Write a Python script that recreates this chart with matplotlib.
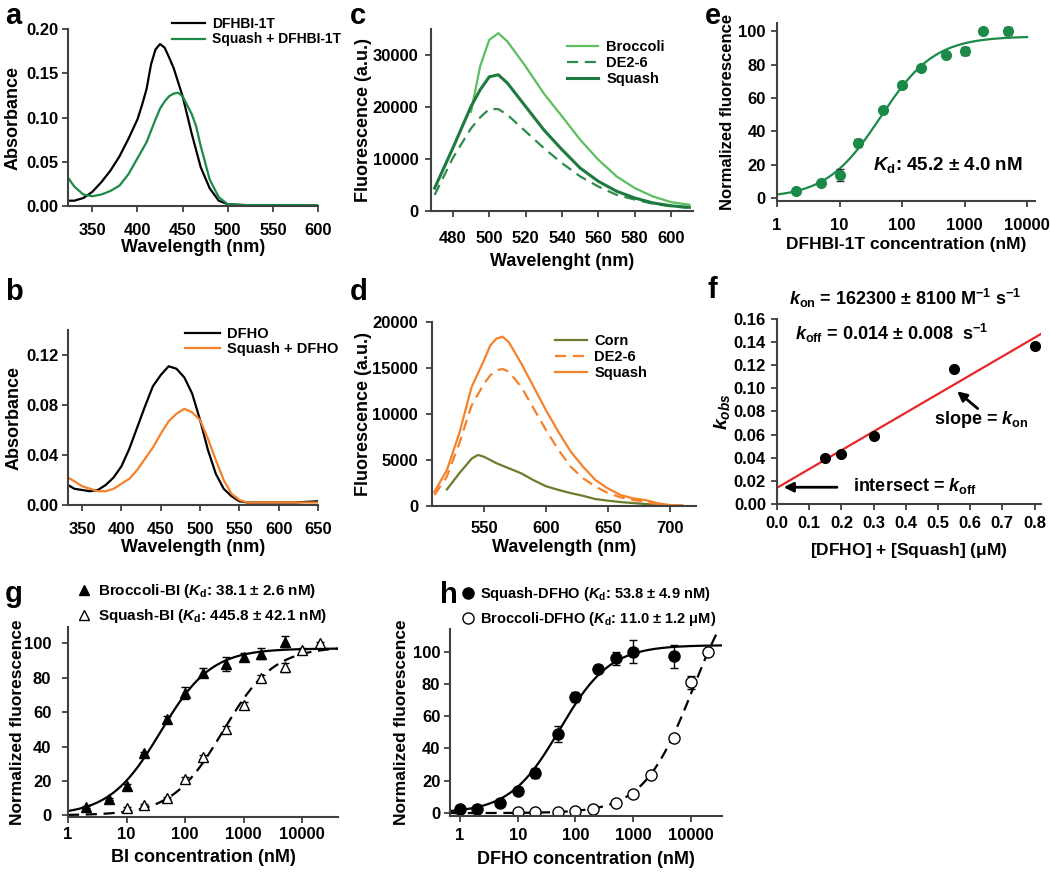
import numpy as np
import matplotlib
matplotlib.use('Agg')
import matplotlib.pyplot as plt

plt.rcParams['font.family'] = ['Liberation Sans', 'DejaVu Sans']
plt.rcParams['font.weight'] = 'bold'
plt.rcParams['axes.labelweight'] = 'bold'
plt.rcParams['mathtext.fontset'] = 'custom'
plt.rcParams['mathtext.rm'] = 'Liberation Sans:bold'
plt.rcParams['mathtext.it'] = 'Liberation Sans:italic:bold'
plt.rcParams['mathtext.bf'] = 'Liberation Sans:bold'

# ---- panel a: absorbance, DFHBI-1T
a_wl = [323, 330, 340, 350, 360, 370, 380, 390, 400, 405, 410, 415, 420, 425, 430, 435,
        440, 445, 450, 460, 465, 470, 480, 490, 500, 520, 550, 580, 600]
a_dye = [0.006, 0.006, 0.009, 0.016, 0.027, 0.040, 0.056, 0.076, 0.098, 0.114, 0.132,
         0.160, 0.177, 0.183, 0.179, 0.168, 0.156, 0.140, 0.124, 0.082, 0.063, 0.044,
         0.020, 0.006, 0.002, 0.001, 0.001, 0.001, 0.001]
a_squash = [0.032, 0.022, 0.013, 0.011, 0.013, 0.017, 0.023, 0.036, 0.054, 0.063, 0.072,
            0.085, 0.098, 0.110, 0.118, 0.124, 0.127, 0.128, 0.124, 0.104, 0.090, 0.068,
            0.030, 0.010, 0.002, 0.001, 0.001, 0.001, 0.001]

# ---- panel b: absorbance, DFHO
b_wl = [332, 340, 350, 360, 370, 380, 390, 400, 410, 420, 430, 440, 450, 460, 470, 480,
        490, 500, 510, 520, 530, 540, 550, 560, 580, 600, 620, 650]
b_dye = [0.016, 0.013, 0.012, 0.011, 0.012, 0.016, 0.022, 0.031, 0.045, 0.062, 0.079,
         0.095, 0.104, 0.111, 0.109, 0.102, 0.089, 0.068, 0.044, 0.025, 0.013, 0.007,
         0.003, 0.002, 0.002, 0.002, 0.002, 0.003]
b_squash = [0.022, 0.019, 0.015, 0.013, 0.011, 0.011, 0.013, 0.017, 0.021, 0.028, 0.037,
            0.046, 0.057, 0.067, 0.073, 0.077, 0.074, 0.068, 0.053, 0.036, 0.020, 0.009,
            0.004, 0.002, 0.002, 0.002, 0.002, 0.002]

# ---- panel c: fluorescence with DFHBI-1T
c_wl = [470, 480, 490, 495, 500, 505, 510, 520, 530, 540, 550, 560, 570, 580, 590, 600, 610]
c_squash = [4400, 12100, 20100, 23300, 25800, 26200, 24600, 20100, 15600, 11800, 8250,
            5700, 3800, 2500, 1550, 1000, 700]
c_de26 = [3100, 10200, 15900, 18000, 19600, 19600, 18500, 15300, 12100, 9200, 6650,
          4700, 3100, 2200, 1400, 900, 600]
c_wl_broc = [490, 495, 500, 505, 510, 520, 530, 540, 550, 560, 570, 580, 590, 600, 610]
c_broc = [19100, 27800, 32900, 34200, 32600, 27800, 22600, 18200, 13700, 9850, 6650,
          4400, 2800, 1700, 1200]

# ---- panel d: fluorescence with DFHO
d_wl = [510, 520, 530, 540, 550, 555, 560, 565, 570, 580, 590, 600, 610, 620, 630, 640,
        650, 660, 670, 680, 690, 700, 710]
d_squash = [1550, 3900, 7900, 12950, 15850, 17450, 18200, 18400, 17800, 15500, 12950,
            10400, 8050, 5900, 4250, 2800, 1900, 1200, 830, 650, 300, 100, 50]
d_de26 = [1200, 3200, 6800, 10950, 13300, 14200, 14750, 14900, 14600, 12950, 10600, 8250,
          6100, 4250, 3000, 2100, 1400, 950, 650, 470, 200, 80, 40]
d_wl_corn = [520, 530, 540, 545, 550, 560, 570, 580, 590, 600, 610, 620, 630, 640, 650,
             660, 670, 680, 690, 700, 710]
d_corn = [1800, 3550, 5150, 5550, 5350, 4650, 4100, 3550, 2800, 2150, 1750, 1400, 1100,
          750, 580, 430, 320, 220, 150, 80, 40]

# ---- panel e: DFHBI-1T titration
e_conc = [2, 5, 10, 20, 50, 100, 200, 500, 1000, 2000, 5000]
e_fluo = [4, 9, 14, 33, 53, 68, 78, 86, 88, 100, 100]
e_err = [0.8, 0.8, 3.5, 2.5, 1.5, 1, 1, 1.5, 2.5, 0.5, 2.5]
e_kd, e_max = 45.2, 97

# ---- panel f: kinetics
f_conc = [0.15, 0.2, 0.3, 0.55, 0.8]
f_kobs = [0.040, 0.043, 0.059, 0.117, 0.137]
f_kon, f_koff = 0.1623, 0.014   # uM^-1 s^-1, s^-1

# ---- panel g: BI titration
g_conc_b = [2, 5, 10, 20, 50, 100, 200, 500, 1000, 2000, 5000]
g_fluo_b = [5, 9.5, 17, 36, 56, 71, 83, 88, 92, 94, 101]
g_err_b = [0.5, 0.5, 1, 1, 1.5, 3.5, 2.5, 4, 2.5, 3, 3]
g_conc_s = [10, 20, 50, 100, 200, 500, 1000, 2000, 5000, 10000, 20000]
g_fluo_s = [4, 6, 10, 21, 34, 50, 64, 80, 86, 96, 100]
g_err_s = [1, 0.8, 0.8, 1.5, 1, 2, 2, 1.5, 2.5, 1.5, 1]
g_kd_b, g_max_b = 38.1, 97
g_kd_s, g_max_s = 445.8, 98

# ---- panel h: DFHO titration
h_conc_s = [1, 2, 5, 10, 20, 50, 100, 250, 500, 1000, 5000]
h_fluo_s = [2.5, 2.5, 6.5, 13.5, 25, 49, 72, 89, 96, 100, 97]
h_err_s = [1, 1, 1, 1, 3, 5, 3, 2.5, 4, 7, 7]
h_conc_b = [10, 20, 50, 100, 200, 500, 1000, 2000, 5000, 10000, 20000]
h_fluo_b = [0.5, 0.5, 0.5, 1.5, 2.5, 6.5, 12, 23.5, 46.5, 81, 100]
h_err_b = [0.3, 0.3, 0.3, 0.5, 0.5, 1, 1, 1, 1, 4, 1]
h_kd_s, h_max_s = 53.8, 104
h_kd_b, h_max_b = 11000, 155

GREEN = '#1b8a48'
ORANGE = '#f5822b'
W, H = 1050, 873
fig = plt.figure(figsize=(10.5, 8.73), dpi=100)


def box(l, t, r, b):
    ax = fig.add_axes([l / W, 1 - b / H, (r - l) / W, (b - t) / H])
    ax.px = (l, t, r, b)
    return ax


def style(ax, xpad, ypad):
    for s in ['top', 'right']:
        ax.spines[s].set_visible(False)
    for s in ['left', 'bottom']:
        ax.spines[s].set_color('#404040')
        ax.spines[s].set_linewidth(1.5)
    ax.tick_params(direction='out', length=4, width=1.3, color='#404040', labelsize=12)
    ax.tick_params(axis='x', pad=xpad)
    ax.tick_params(axis='y', pad=ypad)
    ax.tick_params(which='minor', length=0)


def labels(ax, xl, yl, xy, yx, xfs=12, yfs=12):
    # xy: pixel row of x label centre, yx: pixel column of y label centre
    l, t, r, b = ax.px
    ax.set_xlabel(xl, fontsize=xfs)
    ax.set_ylabel(yl, fontsize=yfs)
    ax.xaxis.set_label_coords(0.5, (b - xy) / (b - t))
    ax.xaxis.label.set_va('center')
    ax.yaxis.set_label_coords((yx - l) / (r - l), 0.5)
    ax.yaxis.label.set_va('center')


def leg(ax, x, y, fs=10, hl=2.2, sp=0.1, tp=0.5):
    ax.legend(loc='upper left', bbox_to_anchor=(x / W, 1 - y / H),
              bbox_transform=fig.transFigure, frameon=False, borderpad=0,
              borderaxespad=0, fontsize=fs, handlelength=hl, labelspacing=sp,
              handletextpad=tp)


def binding(x, kd, bmax):
    return bmax * x / (kd + x)


# a
ax = box(68, 29, 318, 206)
style(ax, 8.5, 3)
ax.plot(a_wl, a_dye, color='black', lw=1.6, label='DFHBI-1T')
ax.plot(a_wl, a_squash, color=GREEN, lw=1.6, label='Squash + DFHBI-1T')
ax.set_xlim(323, 600)
ax.set_ylim(0, 0.2)
ax.set_xticks([350, 400, 450, 500, 550, 600])
ax.set_yticks([0, 0.05, 0.10, 0.15, 0.20])
ax.set_yticklabels(['0.00', '0.05', '0.10', '0.15', '0.20'])
labels(ax, 'Wavelength (nm)', 'Absorbance', 248, 13, 13, 13)
leg(ax, 172, 17, fs=10, hl=2.4)

# b
ax = box(68, 330, 318, 505)
style(ax, 8, 3)
ax.plot(b_wl, b_dye, color='black', lw=1.6, label='DFHO')
ax.plot(b_wl, b_squash, color=ORANGE, lw=1.6, label='Squash + DFHO')
ax.set_xlim(332, 650)
ax.set_ylim(0, 0.14)
ax.set_xticks([350, 400, 450, 500, 550, 600, 650])
ax.set_yticks([0, 0.04, 0.08, 0.12])
ax.set_yticklabels(['0.00', '0.04', '0.08', '0.12'])
labels(ax, 'Wavelength (nm)', 'Absorbance', 547, 14, 13, 13)
leg(ax, 185, 327, fs=10.5, hl=2.4)

# c
ax = box(431, 29, 693, 211)
style(ax, 10.5, 5)
ax.plot(c_wl_broc, c_broc, color='#5cbf5e', lw=1.6, label='Broccoli')
ax.plot(c_wl, c_de26, color='#2d8c4c', lw=1.6, ls=(0, (5, 3)), label='DE2-6')
ax.plot(c_wl, c_squash, color='#1e7a3e', lw=2.2, label='Squash')
ax.set_xlim(468, 612)
ax.set_ylim(0, 35000)
ax.set_xticks([480, 500, 520, 540, 560, 580, 600])
ax.set_yticks([0, 10000, 20000, 30000])
labels(ax, 'Wavelenght (nm)', 'Fluorescence (a.u.)', 262, 364, 13, 13)
leg(ax, 567, 40, fs=10.5, hl=2.1, sp=0.15, tp=0.6)

# d
ax = box(432, 322, 696, 506)
style(ax, 7, 6)
ax.plot(d_wl_corn, d_corn, color='#6b7c2e', lw=1.6, label='Corn')
ax.plot(d_wl, d_de26, color=ORANGE, lw=1.6, ls=(0, (5, 3)), label='DE2-6')
ax.plot(d_wl, d_squash, color=ORANGE, lw=1.6, label='Squash')
ax.set_xlim(508, 721)
ax.set_ylim(0, 20000)
ax.set_xticks([550, 600, 650, 700])
ax.set_yticks([0, 5000, 10000, 15000, 20000])
labels(ax, 'Wavelength (nm)', 'Fluorescence (a.u.)', 548, 364, 13, 13)
leg(ax, 555, 334, fs=10.5, hl=2.2, sp=0.15, tp=0.5)

# e
ax = box(777, 23, 1035, 201)
style(ax, 8.5, 4)
ax.set_xscale('log')
xs = np.logspace(0, 4, 200)
ax.plot(xs, binding(xs, e_kd, e_max), color=GREEN, lw=1.6)
ax.errorbar(e_conc, e_fluo, yerr=e_err, fmt='o', color=GREEN, ms=7, ecolor='#333333',
            elinewidth=1, capsize=3, capthick=1)
ax.set_xlim(1, 13400)
ax.set_ylim(-1.8, 105)
ax.set_xticks([1, 10, 100, 1000, 10000])
ax.set_xticklabels(['1', '10', '100', '1000', '10000'])
ax.set_yticks([0, 20, 40, 60, 80, 100])
labels(ax, 'DFHBI-1T concentration (nM)', 'Normalized fluorescence', 244, 727, 12.5, 12)
ax.text(34, 20, r'$K_\mathrm{d}$: 45.2 ± 4.0 nM', fontsize=13.5, va='center')

# f
ax = box(777, 319, 1041, 504)
style(ax, 5, 4)
fx = np.array([0, 0.82])
ax.plot(fx, f_koff + f_kon * fx, color='#e8262a', lw=1.6)
ax.plot(f_conc, f_kobs, 'o', color='black', ms=7)
ax.set_xlim(0, 0.82)
ax.set_ylim(0, 0.16)
ax.set_xticks(np.arange(0, 0.81, 0.1))
ax.set_xticklabels(['%.1f' % v for v in np.arange(0, 0.81, 0.1)])
ax.set_yticks(np.arange(0, 0.161, 0.02))
ax.set_yticklabels(['%.2f' % v for v in np.arange(0, 0.161, 0.02)])
labels(ax, r'[DFHO] + [Squash] ($\mathrm{\mu}$M)', r'$k_{obs}$', 551, 722, 12.5, 14)
fig.text(905 / W, 1 - 298 / H, r'$k_\mathrm{on}$ = 162300 ± 8100 M$^{\mathrm{-1}}$ s$^{\mathrm{-1}}$',
         fontsize=13, ha='center', va='center')
fig.text(795 / W, 1 - 333 / H, r'$k_\mathrm{off}$ = 0.014 ± 0.008  s$^{\mathrm{-1}}$',
         fontsize=13, ha='left', va='center')
ax.annotate('', xy=(0.553, 0.099), xytext=(0.63, 0.081),
            arrowprops=dict(arrowstyle='-|>', color='black', lw=2, mutation_scale=14))
ax.text(0.487, 0.073, r'slope = $k_\mathrm{on}$', fontsize=13, va='center')
ax.annotate('', xy=(0.012, 0.0145), xytext=(0.195, 0.0145),
            arrowprops=dict(arrowstyle='-|>', color='black', lw=2, mutation_scale=14))
ax.text(0.237, 0.0155, r'intersect = $k_\mathrm{off}$', fontsize=13, va='center')

# g
ax = box(68, 627, 338, 817)
style(ax, 3, 8)
ax.set_xscale('log')
xs = np.logspace(0, np.log10(41000), 200)
ax.plot(xs, binding(xs, g_kd_b, g_max_b), color='black', lw=1.6)
ax.plot(xs, binding(xs, g_kd_s, g_max_s), color='black', lw=1.6, ls=(0, (5, 3)))
ax.errorbar(g_conc_b, g_fluo_b, yerr=g_err_b, fmt='none', ecolor='black',
            elinewidth=1, capsize=3, capthick=1)
ax.errorbar(g_conc_s, g_fluo_s, yerr=g_err_s, fmt='none', ecolor='black',
            elinewidth=1, capsize=3, capthick=1)
ax.plot(g_conc_b, g_fluo_b, '^', color='black', ms=7,
        label=r'Broccoli-BI ($K_\mathrm{d}$: 38.1 ± 2.6 nM)')
ax.plot(g_conc_s, g_fluo_s, '^', color='black', mfc='white', ms=7,
        label=r'Squash-BI ($K_\mathrm{d}$: 445.8 ± 42.1 nM)')
ax.set_xlim(1, 41000)
ax.set_ylim(-1, 109.5)
ax.set_xticks([1, 10, 100, 1000, 10000])
ax.set_xticklabels(['1', '10', '100', '1000', '10000'])
ax.set_yticks([0, 20, 40, 60, 80, 100])
labels(ax, 'BI concentration (nM)', 'Normalized fluorescence', 858, 17, 13, 12.5)
leg(ax, 78, 582, fs=11, hl=0.8, sp=0.45, tp=0.5)

# h
ax = box(450, 629, 722, 816)
style(ax, 5, 3)
ax.set_xscale('log')
xs = np.logspace(np.log10(0.67), np.log10(34600), 200)
ax.plot(xs, binding(xs, h_kd_s, h_max_s), color='black', lw=1.6)
ax.plot(xs, binding(xs, h_kd_b, h_max_b), color='black', lw=1.6, ls=(0, (5, 3)))
ax.errorbar(h_conc_s, h_fluo_s, yerr=h_err_s, fmt='none', ecolor='black',
            elinewidth=1, capsize=3, capthick=1)
ax.errorbar(h_conc_b, h_fluo_b, yerr=h_err_b, fmt='none', ecolor='black',
            elinewidth=1, capsize=3, capthick=1)
ax.plot(h_conc_s, h_fluo_s, 'o', color='black', ms=8,
        label=r'Squash-DFHO ($K_\mathrm{d}$: 53.8 ± 4.9 nM)')
ax.plot(h_conc_b, h_fluo_b, 'o', color='black', mfc='white', ms=8,
        label=r'Broccoli-DFHO ($K_\mathrm{d}$: 11.0 ± 1.2 $\mathrm{\mu}$M)')
ax.set_xlim(0.67, 34600)
ax.set_ylim(-1.8, 114)
ax.set_xticks([1, 10, 100, 1000, 10000])
ax.set_xticklabels(['1', '10', '100', '1000', '10000'])
ax.set_yticks([0, 20, 40, 60, 80, 100])
labels(ax, 'DFHO concentration (nM)', 'Normalized fluorescence', 859, 402, 13, 12.5)
leg(ax, 462, 585, fs=10.5, hl=0.8, sp=0.5, tp=0.4)

# panel letters
for letter, x, y in [('a', 5, 24), ('b', 5, 300), ('c', 350, 24), ('d', 350, 300),
                     ('e', 705, 24), ('f', 707, 298), ('g', 5, 602), ('h', 440, 603)]:
    fig.text(x / W, 1 - y / H, letter, fontsize=21, fontweight='bold', va='baseline')

fig.savefig('out.png', dpi=100)
